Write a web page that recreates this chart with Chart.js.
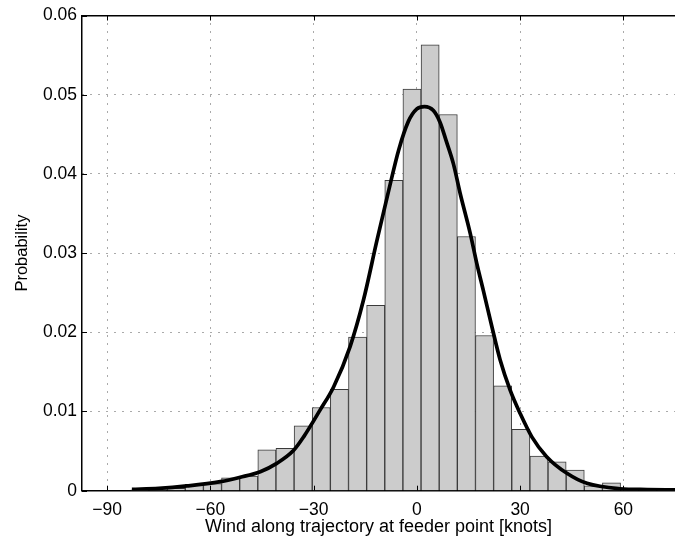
<!DOCTYPE html>
<html>
<head>
<meta charset="utf-8">
<script src="https://cdn.jsdelivr.net/npm/chart.js@4.4.0/dist/chart.umd.min.js"></script>
<style>
  html, body { margin: 0; padding: 0; background: #fff; }
  #wrap { width: 675px; height: 546px; }
</style>
</head>
<body>
<div id="wrap"><canvas id="myChart" width="675" height="546"></canvas></div>
<script>
// histogram bins (centres, knots) and their heights
var binCenters = [-80.47, -75.20, -69.93, -64.66, -59.39, -54.12, -48.85, -43.58, -38.31, -33.04,
                  -27.77, -22.50, -17.23, -11.96, -6.69, -1.42, 3.85, 9.12, 14.39, 19.66,
                  24.93, 30.20, 35.47, 40.74, 46.01, 51.28, 56.55, 61.82, 67.09, 72.36];
var binHeights = [0.0001, 0.0001, 0.0003, 0.0008, 0.0009, 0.00164, 0.00185, 0.00517, 0.00535, 0.0082,
                  0.0105, 0.0128, 0.0194, 0.0234, 0.0392, 0.0507, 0.0563, 0.0475, 0.0321, 0.0196,
                  0.01325, 0.00774, 0.00438, 0.00366, 0.00261, 0.0006, 0.0010, 0.0001, 0.0001, 0.0001];

// fitted curve, points
var curveX = [-82.8, -75, -66.8, -57.1, -51.3, -45.5, -40.7, -35.8, -32.9, -28.1,
              -24.2, -19.4, -15.5, -11.6, -7.7, -5.3, -2.5, 0, 2.2, 4.8,
              6.75, 8.5, 10.6, 12.6, 15.5, 17.4, 19.3, 21.8, 24.2, 27.1,
              30.0, 33.4, 37.7, 43.6, 49.4, 59, 67, 75];
var curveY = [0.00018, 0.0003, 0.0006, 0.00114, 0.0017, 0.0024, 0.00345, 0.0051, 0.0068, 0.0102,
              0.0131, 0.0182, 0.0241, 0.0316, 0.0388, 0.0430, 0.0466, 0.0482, 0.0485, 0.0480,
              0.0465, 0.0442, 0.0413, 0.0375, 0.0325, 0.0287, 0.0253, 0.0207, 0.0165, 0.0127,
              0.00976, 0.0068, 0.0043, 0.0022, 0.00093, 0.00025, 0.00015, 0.0001];

var xTicks = [-90, -60, -30, 0, 30, 60];
var yTicks = [0, 0.01, 0.02, 0.03, 0.04, 0.05, 0.06];
var xMin = -97.3, xMax = 75;

var fontFam = "'Liberation Sans', Arial, Helvetica, sans-serif";

var barPts = [];
for (var i = 0; i < binCenters.length; i++) barPts.push({x: binCenters[i], y: binHeights[i]});
var curvePts = [];
for (var j = 0; j < curveX.length; j++) curvePts.push({x: curveX[j], y: curveY[j]});

// MATLAB style inward tick marks
var innerTicks = {
    id: 'innerTicks',
    afterDatasetsDraw: function(chart) {
        var ctx = chart.ctx, a = chart.chartArea;
        var xs = chart.scales.x, ys = chart.scales.y;
        ctx.save();
        ctx.strokeStyle = '#000';
        ctx.lineWidth = 1;
        ctx.beginPath();
        xTicks.forEach(function(v) {
            var px = Math.round(xs.getPixelForValue(v)) + 0.5;
            ctx.moveTo(px, a.bottom); ctx.lineTo(px, a.bottom - 5);
            ctx.moveTo(px, a.top); ctx.lineTo(px, a.top + 5);
        });
        yTicks.forEach(function(v) {
            var py = Math.round(ys.getPixelForValue(v)) + 0.5;
            ctx.moveTo(a.left, py); ctx.lineTo(a.left + 5, py);
        });
        ctx.stroke();
        ctx.restore();
    }
};

const ctx = document.getElementById('myChart').getContext('2d');
const myChart = new Chart(ctx, {
    type: 'bar',
    data: {
        datasets: [{
            type: 'line',
            data: curvePts,
            borderColor: '#000',
            borderWidth: 3.7,
            pointRadius: 0,
            fill: false,
            cubicInterpolationMode: 'monotone',
            order: 1
        }, {
            type: 'bar',
            data: barPts,
            backgroundColor: '#cccccc',
            borderColor: '#3a3a3a',
            borderWidth: 1,
            barPercentage: 1,
            categoryPercentage: 1,
            order: 2
        }]
    },
    options: {
        responsive: false,
        animation: false,
        events: [],
        layout: { padding: { top: 15, left: 0, right: 0, bottom: 0 } },
        plugins: { legend: { display: false }, tooltip: { enabled: false } },
        scales: {
            x: {
                type: 'linear',
                position: 'bottom',
                min: xMin, max: xMax,
                offset: false,
                afterBuildTicks: function(s) { s.ticks = xTicks.map(function(v) { return {value: v}; }); },
                afterFit: function(s) { s.height = 55.3; },
                ticks: {
                    color: '#000',
                    padding: 8.5,
                    maxRotation: 0,
                    autoSkip: false,
                    font: { family: fontFam, size: 17.5 },
                    callback: function(v) { return v < 0 ? '\u2212' + Math.abs(v) : String(v); }
                },
                grid: { color: '#555', lineWidth: 1, drawTicks: false, offset: false },
                border: { display: true, color: '#000', width: 1.5, dash: [1, 7] },
                title: {
                    display: true,
                    text: 'Wind along trajectory at feeder point [knots]',
                    color: '#000',
                    font: { family: fontFam, size: 18 },
                    padding: { top: 0, bottom: 8 }
                }
            },
            xTop: {
                type: 'linear',
                position: 'top',
                display: true,
                min: xMin, max: xMax,
                afterFit: function(s) { s.height = 0; },
                ticks: { display: false },
                grid: { display: false, drawTicks: false },
                border: { display: true, color: '#000', width: 1.5 }
            },
            y: {
                min: 0, max: 0.06,
                afterBuildTicks: function(s) { s.ticks = yTicks.map(function(v) { return {value: v}; }); },
                afterFit: function(s) { s.width = 82; },
                ticks: {
                    color: '#000',
                    padding: 5,
                    font: { family: fontFam, size: 17.5 },
                    callback: function(v) { return v === 0 ? '0' : v.toFixed(2); }
                },
                grid: { color: '#555', lineWidth: 1, drawTicks: false },
                border: { display: true, color: '#000', width: 1.5, dash: [1, 7] },
                title: {
                    display: true,
                    text: 'Probability',
                    color: '#000',
                    font: { family: fontFam, size: 16.5 },
                    padding: { top: 12.5, bottom: 0 }
                }
            }
        }
    },
    plugins: [innerTicks]
});
</script>
</body>
</html>
